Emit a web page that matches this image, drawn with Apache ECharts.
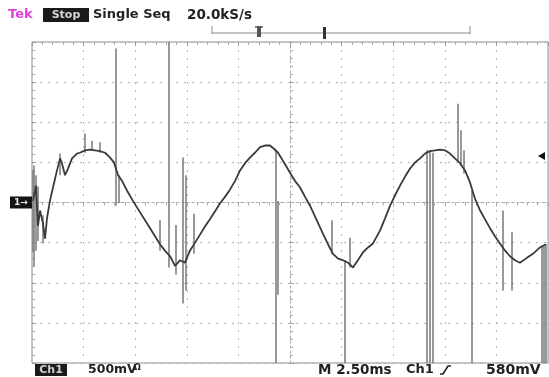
<!DOCTYPE html>
<html><head><meta charset="utf-8">
<script src="https://cdn.jsdelivr.net/npm/echarts@6/dist/echarts.min.js"></script>
<style>html,body{margin:0;padding:0;background:#fff}#c{width:549px;height:377px}</style>
</head><body><div id="c"></div>
<script>
// Time axis (ms, relative to screen centre) and voltage axis (V), 2.5 ms/div, 500 mV/div
const timeMin = -12.5, timeMax = 12.5, timeStep = 2.5;
const voltMin = -2, voltMax = 2, voltStep = 0.5;
const triggerLevel = 0.58;   // 580mV
const groundLevel = 0;

// Main trace
const traceTime = [-12.45,-12.31,-12.21,-12.11,-11.97,-11.87,-11.77,-11.63,-11.48,-11.29,-11.14,-11.05,-10.90,-10.76,-10.56,-10.32,-10.18,-9.93,-9.69,-9.45,-9.21,-8.96,-8.72,-8.53,-8.33,-8.14,-7.90,-7.61,-7.27,-6.78,-6.30,-6.06,-5.81,-5.57,-5.33,-5.09,-4.85,-4.60,-4.36,-4.12,-3.88,-3.63,-3.39,-3.15,-2.91,-2.66,-2.42,-2.18,-1.94,-1.70,-1.45,-1.21,-0.97,-0.78,-0.58,-0.34,0,0.24,0.48,0.73,0.97,1.26,1.60,1.84,2.08,2.33,2.57,2.81,3.05,3.29,3.54,3.78,4.02,4.36,4.60,4.85,5.09,5.33,5.57,5.81,6.06,6.30,6.54,6.78,7.03,7.27,7.51,7.75,7.99,8.24,8.48,8.72,8.96,9.21,9.45,9.69,9.93,10.17,10.42,10.66,10.90,11.14,11.48,11.77,12.11,12.40];
const traceVolt = [0.02,0.21,-0.29,-0.10,-0.26,-0.45,-0.19,0.02,0.19,0.40,0.55,0.49,0.34,0.42,0.55,0.61,0.62,0.65,0.66,0.65,0.64,0.62,0.56,0.50,0.34,0.27,0.15,0.02,-0.12,-0.32,-0.52,-0.60,-0.67,-0.79,-0.72,-0.75,-0.60,-0.50,-0.40,-0.30,-0.21,-0.11,-0.01,0.07,0.16,0.27,0.40,0.49,0.56,0.62,0.69,0.71,0.71,0.67,0.62,0.52,0.37,0.27,0.19,0.07,-0.04,-0.20,-0.39,-0.52,-0.64,-0.70,-0.72,-0.75,-0.81,-0.72,-0.62,-0.56,-0.51,-0.35,-0.20,-0.04,0.09,0.21,0.32,0.42,0.50,0.55,0.61,0.64,0.65,0.66,0.65,0.61,0.55,0.49,0.40,0.25,0.05,-0.10,-0.21,-0.32,-0.42,-0.51,-0.60,-0.67,-0.72,-0.75,-0.69,-0.64,-0.56,-0.52];

// Glitches / spikes: time, start voltage, end voltage
const spikeTime = [-12.45,-12.40,-12.31,-12.21,-11.97,-11.14,-9.93,-9.59,-9.21,-8.43,-8.28,-6.30,-5.86,-5.52,-5.18,-5.04,-4.65,-0.68,-0.58,2.03,2.66,2.91,6.64,6.78,6.93,8.14,8.29,8.43,8.82,10.32,10.76,12.21,12.31,12.40];
const spikeFrom = [0.40,0.46,0.34,0.20,-0.16,0.61,0.86,0.77,0.75,1.92,0.34,-0.22,2.00,-0.28,0.56,0.34,-0.14,0.65,0.02,-0.22,-0.72,-0.44,0.65,0.65,0.62,1.23,0.90,0.65,0.15,-0.10,-0.37,-0.54,-0.54,-0.52];
const spikeTo = [-0.62,-0.79,-0.60,-0.48,-0.51,0.34,0.62,0.65,0.62,-0.04,-0.01,-0.60,-0.81,-0.90,-1.26,-1.10,-0.64,-2.00,-1.15,-0.64,-2.00,-0.81,-2.00,-2.00,-2.00,0.52,0.46,0.36,-2.00,-1.10,-1.10,-2.00,-2.00,-2.00];

const chart = echarts.init(document.getElementById('c'), null, {renderer:'canvas'});
const dotted = {color:'#b4b4b4', width:1, type:[2,6]};
const font = '"DejaVu Sans", sans-serif';

const option = {
  animation:false,
  backgroundColor:'#ffffff',
  grid:{left:32, right:1, top:42, bottom:14, show:true, borderColor:'#8e8e8e', borderWidth:1, containLabel:false},
  xAxis:[
    {type:'value', min:timeMin, max:timeMax, interval:timeStep, position:'bottom',
     axisLine:{show:true, onZero:true, lineStyle:{color:'#a8a8a8', type:[2,3]}},
     axisTick:{show:true, length:4, lineStyle:{color:'#a8a8a8'}},
     minorTick:{show:true, splitNumber:5, length:3, lineStyle:{color:'#b0b0b0'}},
     axisLabel:{show:false}, splitLine:{show:true, lineStyle:dotted}},
    {type:'value', min:timeMin, max:timeMax, interval:timeStep, position:'top',
     axisLine:{show:false, onZero:false},
     axisTick:{show:true, inside:true, length:4, lineStyle:{color:'#999'}},
     minorTick:{show:true, splitNumber:5, length:3, lineStyle:{color:'#aaa'}},
     axisLabel:{show:false}, splitLine:{show:false}}
  ],
  yAxis:[
    {type:'value', min:voltMin, max:voltMax, interval:voltStep, position:'right',
     axisLine:{show:true, onZero:true, lineStyle:{color:'#a8a8a8', type:[2,3]}},
     axisTick:{show:true, length:4, lineStyle:{color:'#a8a8a8'}},
     minorTick:{show:true, splitNumber:5, length:3, lineStyle:{color:'#b0b0b0'}},
     axisLabel:{show:false}, splitLine:{show:true, lineStyle:dotted}},
    {type:'value', min:voltMin, max:voltMax, interval:voltStep, position:'left',
     axisLine:{show:false, onZero:false},
     axisTick:{show:true, inside:true, length:4, lineStyle:{color:'#999'}},
     minorTick:{show:true, splitNumber:5, length:3, lineStyle:{color:'#aaa'}},
     axisLabel:{show:false}, splitLine:{show:false}}
  ],
  series:[
    {type:'lines', coordinateSystem:'cartesian2d', xAxisIndex:0, yAxisIndex:0, z:2,
     lineStyle:{color:'#808080', width:1.6, opacity:1},
     data: spikeTime.map((t,i)=>({coords:[[t, spikeFrom[i]],[t, spikeTo[i]]]}))},
    {type:'line', xAxisIndex:0, yAxisIndex:0, z:3, showSymbol:false, symbol:'none', clip:true,
     lineStyle:{color:'#3a3a3a', width:1.8},
     data: traceTime.map((t,i)=>[t, traceVolt[i]])}
  ]
};
chart.setOption(option);

const g = chart.convertToPixel({xAxisIndex:0, yAxisIndex:0}, [timeMin, groundLevel]);
const tr = chart.convertToPixel({xAxisIndex:0, yAxisIndex:0}, [timeMax, triggerLevel]);
const txt = (x,y,s,opt={}) => ({type:'text', x, y, silent:true,
  style:Object.assign({text:s, fill:'#222', font:'bold 13px '+font, verticalAlign:'middle', textAlign:'left'}, opt)});
const ln = (x1,y1,x2,y2,c,w) => ({type:'line', silent:true, shape:{x1,y1,x2,y2}, style:{stroke:c, lineWidth:w}});

chart.setOption({graphic:[
  txt(8,15,'Tek',{fill:'#e23de2'}),
  {type:'rect', shape:{x:43,y:8,width:46,height:14}, style:{fill:'#1b1b1b'}},
  txt(66,15,'Stop',{fill:'#d8d8d8', textAlign:'center', font:'bold 11px '+font}),
  txt(93,15,'Single Seq'),
  txt(187,15,'20.0kS/s',{font:'bold 13.5px '+font}),
  ln(212,33,470,33,'#8a8a8a',1),
  ln(212,26,212,34,'#8a8a8a',1),
  ln(470,26,470,34,'#8a8a8a',1),
  {type:'rect', shape:{x:257,y:26,width:4,height:11}, style:{fill:'#555'}},
  ln(255,27,263,27,'#555',1.5),
  {type:'rect', shape:{x:323,y:27,width:3,height:12}, style:{fill:'#333'}},
  {type:'rect', shape:{x:35,y:364,width:32,height:12}, style:{fill:'#1b1b1b'}},
  txt(51,370,'Ch1',{fill:'#cfcfcf', textAlign:'center', font:'bold 11px '+font}),
  txt(88,370,'500mV',{font:'bold 12.5px '+font}),
  txt(134,368,'Ω',{font:'bold 8px '+font}),
  txt(318,370,'M 2.50ms',{font:'bold 13.5px '+font}),
  txt(406,370,'Ch1',{font:'bold 13px '+font}),
  {type:'polyline', silent:true, shape:{points:[[440,374],[443,374],[448,366],[451,366]]}, style:{stroke:'#222', lineWidth:1.6, fill:null}},
  txt(486,370,'580mV',{font:'bold 14px '+font}),
  {type:'rect', shape:{x:10,y:g[1]-6,width:22,height:12}, style:{fill:'#141414'}},
  txt(21,g[1],'1→',{fill:'#eeeeee', textAlign:'center', font:'bold 9px '+font}),
  {type:'polygon', silent:true, shape:{points:[[tr[0]-10,tr[1]],[tr[0]-3,tr[1]-4],[tr[0]-3,tr[1]+4]]}, style:{fill:'#111'}}
]});
</script></body></html>
